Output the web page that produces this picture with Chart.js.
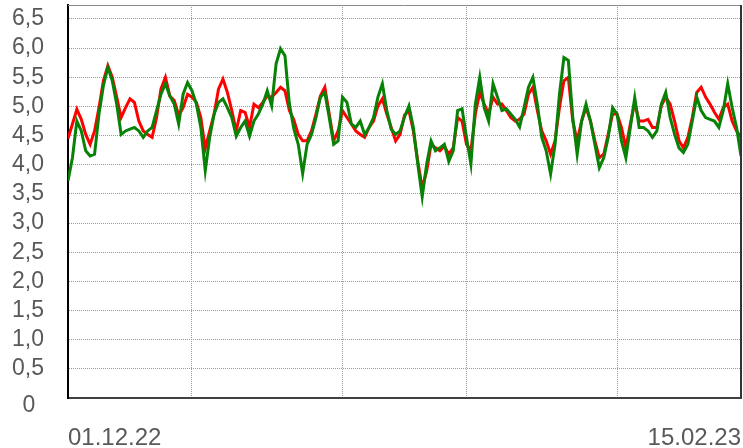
<!DOCTYPE html>
<html>
<head>
<meta charset="utf-8">
<script src="https://cdn.jsdelivr.net/npm/chart.js@4/dist/chart.umd.min.js"></script>
<style>
  html, body { margin: 0; padding: 0; background: #fff; }
  #wrap { width: 743px; height: 448px; }
</style>
</head>
<body>
<div id="wrap"><canvas id="c" width="743" height="448"></canvas></div>
<script>
// Twice-daily readings from 01.12.22 00:00 onwards (step in days)
const stepDays = 0.5;

const redSeries = [
  4.45, 4.70, 4.95, 4.78, 4.52, 4.35, 4.58, 4.98, 5.44, 5.70,
  5.50, 5.16, 4.81, 4.98, 5.13, 5.07, 4.75, 4.58, 4.52, 4.47,
  4.81, 5.30, 5.50, 5.18, 5.10, 4.85, 4.98, 5.21, 5.16, 5.07,
  4.81, 4.28, 4.58, 4.87, 5.30, 5.47, 5.24, 4.93, 4.58, 4.93,
  4.90, 4.64, 5.04, 4.98, 5.07, 5.18, 5.16, 5.24, 5.33, 5.27,
  4.93, 4.77, 4.52, 4.41, 4.41, 4.58, 4.87, 5.18, 5.33, 4.87,
  4.41, 4.58, 4.93, 4.81, 4.70, 4.58, 4.52, 4.47, 4.64, 4.75,
  5.01, 5.13, 4.87, 4.64, 4.41, 4.52, 4.85, 4.93, 4.58, 4.06,
  3.60, 3.89, 4.35, 4.29, 4.24, 4.32, 4.18, 4.29, 4.81, 4.75,
  4.35, 4.24, 4.87, 5.24, 5.04, 4.87, 5.16, 5.04, 5.04, 4.93,
  4.81, 4.75, 4.78, 4.87, 5.21, 5.33, 4.93, 4.58, 4.41, 4.18,
  4.41, 4.98, 5.44, 5.50, 4.75, 4.41, 4.75, 4.98, 4.75, 4.41,
  4.12, 4.18, 4.52, 4.87, 4.87, 4.64, 4.29, 4.70, 5.07, 4.75,
  4.75, 4.78, 4.64, 4.64, 5.01, 5.16, 5.04, 4.75, 4.41, 4.29,
  4.47, 4.81, 5.24, 5.33, 5.16, 5.04, 4.90, 4.78, 4.98, 5.04,
  4.75, 4.58, 4.47
];

const greenSeries = [
  3.72, 4.12, 4.75, 4.58, 4.24, 4.15, 4.18, 4.87, 5.36, 5.67,
  5.44, 5.04, 4.52, 4.58, 4.61, 4.64, 4.58, 4.47, 4.58, 4.64,
  4.93, 5.21, 5.39, 5.18, 5.04, 4.70, 5.21, 5.41, 5.27, 5.04,
  4.64, 3.90, 4.47, 4.87, 5.07, 5.13, 4.98, 4.81, 4.49, 4.64,
  4.75, 4.49, 4.75, 4.87, 5.04, 5.27, 5.01, 5.73, 5.99, 5.87,
  5.04, 4.62, 4.35, 3.85, 4.35, 4.52, 4.81, 5.16, 5.24, 4.81,
  4.35, 4.41, 5.16, 5.07, 4.70, 4.64, 4.75, 4.52, 4.64, 4.81,
  5.16, 5.39, 4.93, 4.61, 4.52, 4.58, 4.82, 5.01, 4.64, 4.01,
  3.45, 4.01, 4.41, 4.24, 4.29, 4.35, 4.06, 4.24, 4.93, 4.96,
  4.47, 4.01, 5.04, 5.50, 4.98, 4.75, 5.39, 5.16, 4.93, 4.96,
  4.87, 4.78, 4.65, 4.98, 5.33, 5.50, 5.04, 4.47, 4.24, 3.84,
  4.35, 5.21, 5.84, 5.79, 4.81, 4.18, 4.75, 5.04, 4.75, 4.35,
  3.95, 4.12, 4.47, 4.98, 4.87, 4.41, 4.12, 4.64, 5.15, 4.64,
  4.64, 4.58, 4.47, 4.58, 5.04, 5.24, 4.81, 4.52, 4.29, 4.21,
  4.35, 4.75, 5.16, 4.93, 4.81, 4.78, 4.75, 4.64, 4.93, 5.39,
  4.98, 4.64, 4.15
];

// Vertical grid positions in days since 01.12.22 (1st and 15th of each month)
const xTickDays = [0, 14, 31, 45, 62, 76];
const xTickLabels = ['01.12.22', '', '', '', '', '15.02.23'];

const yTickValues = [0, 0.5, 1, 1.5, 2, 2.5, 3, 3.5, 4, 4.5, 5, 5.5, 6, 6.5];
const yTickLabels = ['0', '0,5', '1,0', '1,5', '2,0', '2,5', '3,0', '3,5', '4,0', '4,5', '5,0', '5,5', '6,0', '6,5'];

const FONT = "'Liberation Sans', Arial, sans-serif";
const TEXT = '#595959';

const toPoints = arr => arr.map((v, i) => ({ x: i * stepDays, y: v }));

// Frame on top and right plus the lowered zero label
const framePlugin = {
  id: 'frame',
  afterDraw(chart) {
    const { ctx, chartArea: a, scales } = chart;
    ctx.save();
    ctx.strokeStyle = '#8a8a8a';
    ctx.lineWidth = 1;
    ctx.beginPath();
    ctx.moveTo(a.left, a.top + 0.5);
    ctx.lineTo(a.right, a.top + 0.5);
    ctx.stroke();
    ctx.strokeStyle = '#333';
    ctx.lineWidth = 2;
    ctx.beginPath();
    ctx.moveTo(a.right, a.top);
    ctx.lineTo(a.right, a.bottom);
    ctx.stroke();
    ctx.fillStyle = TEXT;
    ctx.font = '23px ' + FONT;
    ctx.textAlign = 'center';
    ctx.textBaseline = 'middle';
    ctx.fillText(yTickLabels[0], 29, scales.y.getPixelForValue(0) + 8);
    ctx.restore();
  }
};

new Chart(document.getElementById('c'), {
  type: 'line',
  data: {
    datasets: [
      { label: 'green', data: toPoints(greenSeries), borderColor: '#078207', borderWidth: 3,
        pointRadius: 0, tension: 0, order: 0 },
      { label: 'red', data: toPoints(redSeries), borderColor: '#ff0000', borderWidth: 3,
        pointRadius: 0, tension: 0, order: 1 }
    ]
  },
  options: {
    responsive: false,
    animation: false,
    layout: { padding: { top: 5, right: 2, left: 0, bottom: 0 } },
    plugins: { legend: { display: false }, tooltip: { enabled: false } },
    scales: {
      x: {
        type: 'linear',
        min: 0,
        max: 76,
        afterBuildTicks: s => { s.ticks = xTickDays.map(v => ({ value: v })); },
        afterFit: s => { s.height = 50; s.paddingLeft = 0; s.paddingRight = 0; },
        ticks: {
          autoSkip: false, maxRotation: 0, minRotation: 0, align: 'inner', padding: 26,
          color: TEXT, font: { size: 24, family: FONT },
          callback: (v, i) => xTickLabels[i]
        },
        grid: {
          drawTicks: false, lineWidth: 1,
          color: c => (c.index === 0 || c.index === xTickDays.length - 1) ? 'rgba(0,0,0,0)' : '#9a9a9a'
        },
        border: { display: true, color: '#404040', width: 2, dash: [1, 1] }
      },
      y: {
        min: 0,
        max: 6.74,
        afterBuildTicks: s => { s.ticks = yTickValues.map(v => ({ value: v })); },
        afterFit: s => { s.width = 68; s.paddingTop = 0; s.paddingBottom = 0; },
        ticks: {
          autoSkip: false, crossAlign: 'center', padding: 24, color: TEXT, font: { size: 23, family: FONT },
          callback: (v, i) => (i === 0 ? '' : yTickLabels[i])
        },
        grid: { drawTicks: false, lineWidth: 1, color: '#9a9a9a' },
        border: { display: true, color: '#000', width: 2, dash: [1, 1] }
      }
    }
  },
  plugins: [framePlugin]
});
</script>
</body>
</html>
